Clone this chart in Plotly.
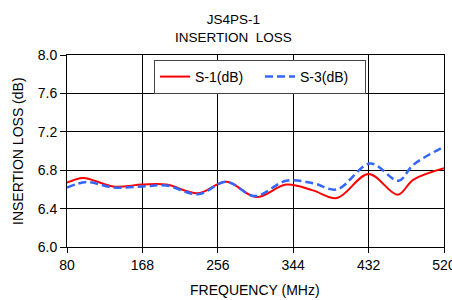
import plotly.graph_objects as go

freq_s1 = [80, 99, 134, 168, 196, 233, 266, 301, 336, 367, 395, 432, 466, 484, 520]
s1_db = [6.67, 6.72, 6.63, 6.65, 6.65, 6.56, 6.68, 6.52, 6.65, 6.59, 6.51, 6.76, 6.545, 6.70, 6.82]
freq_s3 = [80, 103, 134, 168, 196, 233, 266, 299, 336, 367, 395, 434, 467, 484, 520]
s3_db = [6.62, 6.676, 6.62, 6.63, 6.64, 6.55, 6.68, 6.53, 6.69, 6.665, 6.60, 6.87, 6.69, 6.855, 7.045]
x_ticks = [80, 168, 256, 344, 432, 520]
y_ticks = [6.0, 6.4, 6.8, 7.2, 7.6, 8.0]

font = "Liberation Sans, Arial, sans-serif"
L, R, T, B = 67, 8, 55, 53
PW, PH = 452 - L - R, 300 - T - B

fig = go.Figure()
fig.add_trace(go.Scatter(x=freq_s1, y=s1_db, name="S-1(dB)", mode="lines",
                         line=dict(color="#FF0000", width=2, shape="spline", smoothing=1.0)))
fig.add_trace(go.Scatter(x=freq_s3, y=s3_db, name="S-3(dB)", mode="lines",
                         line=dict(color="#3366FF", width=2.5, dash="8px,4px", shape="spline", smoothing=1.0)))

fig.update_layout(
    width=452, height=300,
    margin=dict(l=L, r=R, t=T, b=B, autoexpand=False),
    paper_bgcolor="white", plot_bgcolor="white",
    font=dict(family=font, size=14, color="black"),
    showlegend=True,
    legend=dict(orientation="h", x=(154 - L) / PW, y=1 - 5 / PH, xanchor="left", yanchor="top",
                bordercolor="#444444", borderwidth=1, bgcolor="white",
                font=dict(size=14), itemwidth=30, entrywidth=60, entrywidthmode="pixels",
                tracegroupgap=0),
    annotations=[
        dict(text="JS4PS-1<br>INSERTION&nbsp;&nbsp;LOSS", xref="paper", yref="paper",
             x=(233 - L) / PW, y=1 + (T - 28.5) / PH, xanchor="center", yanchor="middle",
             showarrow=False, font=dict(size=13.5)),
        dict(text="FREQUENCY (MHz)", xref="paper", yref="paper",
             x=(255 - L) / PW, y=-(290 - (300 - B)) / PH, xanchor="center", yanchor="middle",
             showarrow=False, font=dict(size=14)),
        dict(text="INSERTION LOSS (dB)", xref="paper", yref="paper", textangle=-90,
             x=-(L - 18) / PW, y=(247 - 151) / PH, xanchor="center", yanchor="middle",
             showarrow=False, font=dict(size=14)),
    ],
)

fig.update_xaxes(range=[80, 520], tickvals=x_ticks, ticktext=[str(v) for v in x_ticks],
                 showgrid=True, gridcolor="black", gridwidth=1, automargin=False,
                 ticklabeloverflow="allow",
                 showline=True, linecolor="black", linewidth=1, mirror=True,
                 ticks="outside", ticklen=5, tickcolor="black", zeroline=False)
fig.update_yaxes(range=[6.0, 8.0], tickvals=y_ticks, ticktext=[f"{v:.1f}" for v in y_ticks],
                 showgrid=True, gridcolor="black", gridwidth=1, automargin=False,
                 showline=True, linecolor="black", linewidth=1, mirror=True,
                 ticks="outside", ticklen=6, tickcolor="black", zeroline=False)

fig.write_html("out.html", config={"displayModeBar": False},
               post_script="document.body.style.margin='0';document.body.style.overflow='hidden';")
